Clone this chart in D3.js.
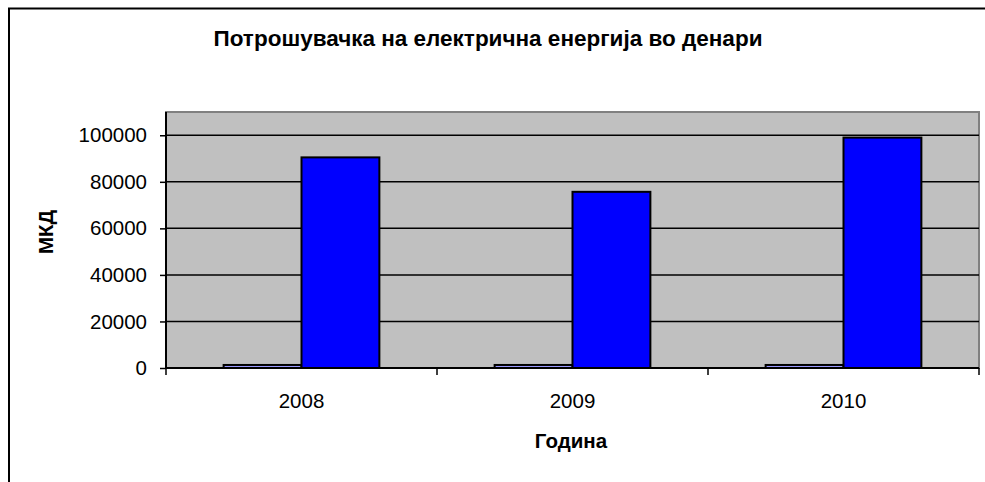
<!DOCTYPE html>
<html>
<head>
<meta charset="utf-8">
<script src="https://cdn.jsdelivr.net/npm/d3@7"></script>
<style>
  body { margin: 0; background: #fff; }
  text { font-family: "Liberation Sans", Arial, sans-serif; fill: #000; }
</style>
</head>
<body>
<div id="vis"></div>
<script>
// frame size and plot margins
const FRAME_WIDTH = 985;
const FRAME_HEIGHT = 482;
const MARGINS = {left: 166, right: 6, top: 112, bottom: 114};

// data
const years = ["2008", "2009", "2010"];
const seriesNames = ["s1", "s2"];
const series1 = [1300, 1300, 1300];
const series2 = [90500, 75700, 99000];
const yTicks = [0, 20000, 40000, 60000, 80000, 100000];

const VIS_WIDTH = FRAME_WIDTH - MARGINS.left - MARGINS.right;
const VIS_HEIGHT = FRAME_HEIGHT - MARGINS.top - MARGINS.bottom;

const svg = d3.select("#vis")
  .append("svg")
    .attr("width", FRAME_WIDTH)
    .attr("height", FRAME_HEIGHT);

// outer chart border (runs off the bottom/right of the picture)
svg.append("rect")
  .attr("x", 9).attr("y", 8.5)
  .attr("width", FRAME_WIDTH + 20).attr("height", FRAME_HEIGHT + 20)
  .attr("fill", "#fff").attr("stroke", "#000").attr("stroke-width", 2);

const plot = svg.append("g")
  .attr("transform", "translate(" + MARGINS.left + "," + MARGINS.top + ")");

// scales
const X0 = d3.scaleBand().domain(years).range([0, VIS_WIDTH]);
const X1 = d3.scaleBand().domain(seriesNames).range([0, X0.bandwidth()])
  .paddingInner(0).paddingOuter(0.74);
const Y = d3.scaleLinear().domain([0, 110000]).range([VIS_HEIGHT, 0]);

// plot background
plot.append("rect")
  .attr("x", 0).attr("y", 0)
  .attr("width", VIS_WIDTH).attr("height", VIS_HEIGHT)
  .attr("fill", "#c0c0c0").attr("stroke", "#808080").attr("stroke-width", 2);

// gridlines
plot.selectAll(".grid")
  .data(yTicks.slice(1))
  .enter()
  .append("line")
    .attr("x1", 0).attr("x2", VIS_WIDTH)
    .attr("y1", (d) => Y(d)).attr("y2", (d) => Y(d))
    .attr("stroke", "#000").attr("stroke-width", 1.5);

// bars
const rows = years.map((y, i) => ({year: y, vals: [
  {key: "s1", v: series1[i], color: "#9999ff"},
  {key: "s2", v: series2[i], color: "#0000ff"}
]}));

plot.selectAll(".grp")
  .data(rows)
  .enter()
  .append("g")
    .attr("transform", (d) => "translate(" + X0(d.year) + ",0)")
  .selectAll("rect")
  .data((d) => d.vals)
  .enter()
  .append("rect")
    .attr("x", (d) => X1(d.key))
    .attr("y", (d) => Y(d.v))
    .attr("width", X1.bandwidth())
    .attr("height", (d) => VIS_HEIGHT - Y(d.v))
    .attr("fill", (d) => d.color)
    .attr("stroke", "#000").attr("stroke-width", 2);

// y axis
const yAxis = plot.append("g")
  .call(d3.axisLeft(Y).tickValues(yTicks).tickSize(6).tickPadding(13).tickFormat(d3.format("d")));
yAxis.select(".domain").attr("stroke-width", 2).attr("d", "M0," + VIS_HEIGHT + "V0");
yAxis.selectAll(".tick line").attr("stroke-width", 1.5);
yAxis.selectAll("text").attr("font-size", "20.5px").attr("font-family", "Liberation Sans, Arial, sans-serif");

// x axis
const xTickPos = [0].concat(years.map((y) => X0(y) + X0.bandwidth()));
const xAxis = plot.append("g")
  .attr("transform", "translate(0," + VIS_HEIGHT + ")");
xAxis.append("line")
  .attr("x1", 0).attr("x2", VIS_WIDTH)
  .attr("stroke", "#000").attr("stroke-width", 2);
xAxis.selectAll(".xt")
  .data(xTickPos)
  .enter()
  .append("line")
    .attr("x1", (d) => d).attr("x2", (d) => d)
    .attr("y1", 0).attr("y2", 7)
    .attr("stroke", "#000").attr("stroke-width", 1.5);
xAxis.selectAll(".xl")
  .data(years)
  .enter()
  .append("text")
    .attr("x", (d) => X0(d) + X0.bandwidth() / 2)
    .attr("y", 40)
    .attr("text-anchor", "middle")
    .attr("font-size", "20.5px")
    .text((d) => d);

// titles
svg.append("text")
  .attr("x", 488).attr("y", 46)
  .attr("text-anchor", "middle")
  .attr("font-size", "22.5px").attr("font-weight", "bold")
  .text("Потрошувачка на електрична енергија во денари");

svg.append("text")
  .attr("x", 571).attr("y", 448)
  .attr("text-anchor", "middle")
  .attr("font-size", "20.5px").attr("font-weight", "bold")
  .text("Година");

svg.append("text")
  .attr("transform", "translate(53,232) rotate(-90)")
  .attr("text-anchor", "middle")
  .attr("font-size", "20.5px").attr("font-weight", "bold")
  .text("МКД");
</script>
</body>
</html>
